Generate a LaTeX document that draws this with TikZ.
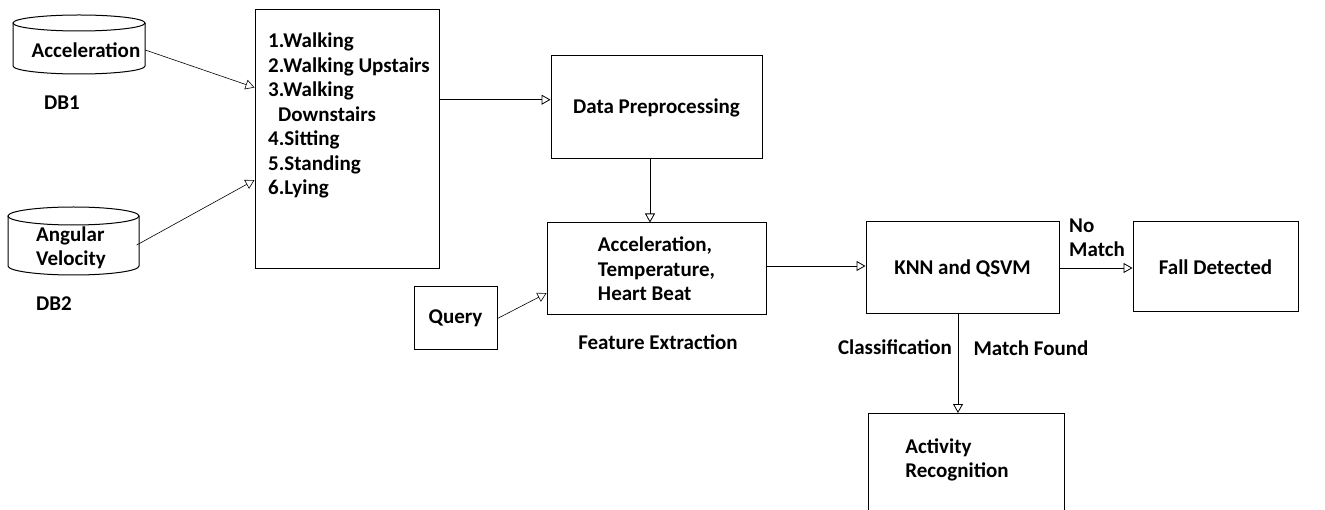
\documentclass[tikz,border=0pt]{standalone}
\usepackage{fontspec}
\setmainfont{Carlito}
\usetikzlibrary{arrows.meta,calc}
\begin{document}
\begin{tikzpicture}[x=1pt,y=-1pt,
  font=\fontsize{21}{24.5}\selectfont\bfseries,
  box/.style={draw, line width=1pt, inner sep=0pt},
  conn/.style={line width=0.8pt, -{Triangle[open,length=9pt,width=10pt]}},
  thinconn/.style={line width=0.6pt, -{Triangle[open,length=9pt,width=10pt]}},
  txt/.style={inner sep=0pt, align=left},
  cyl/.style={line width=1pt}]
\clip (0,0) rectangle (1325,510);
\fill[white] (0,0) rectangle (1325,510);

% DB1 cylinder
\draw[cyl] (79,23) ellipse [x radius=66pt, y radius=8pt];
\draw[cyl] (13,23) -- (13,66) arc[start angle=180, end angle=360, x radius=66pt, y radius=8pt] -- (145,23);
\node[txt, minimum width=118pt] (db1) at (86,50) {Acceleration};
\node[txt] (db1lbl) at (62,103) {DB1};

% DB2 cylinder
\draw[cyl] (73.5,216) ellipse [x radius=65.5pt, y radius=9pt];
\draw[cyl] (8,216) -- (8,266) arc[start angle=180, end angle=360, x radius=65.5pt, y radius=9pt] -- (139,216);
\node[txt, minimum width=131pt] (db2) at (71,248) {Angular\\Velocity};
\node[txt] (db2lbl) at (54,304) {DB2};

% activity list
\node[box, minimum width=184pt, minimum height=259pt] (list) at (347,139.5) {};
\node[txt, anchor=north west] (listtext) at (268,33) {1.Walking\\2.Walking Upstairs\\3.Walking\\\hspace*{10pt}Downstairs\\4.Sitting\\5.Standing\\6.Lying};

% data preprocessing
\node[box, minimum width=211pt, minimum height=103pt] (dp) at (656.5,107.5) {Data Preprocessing};

% feature extraction
\node[box, minimum width=219pt, minimum height=92pt, align=left] (fe) at (656.5,269) {Acceleration,\\Temperature,\\Heart Beat};
\node[txt] (felbl) at (658,342) {Feature Extraction};

% query
\node[box, minimum width=83pt, minimum height=63pt] (query) at (455.5,318.5) {Query};

% classifier
\node[box, minimum width=193pt, minimum height=92pt] (knn) at (962.5,268) {KNN and QSVM};
\node[box, minimum width=165pt, minimum height=90pt] (fall) at (1215.5,267) {Fall Detected};
\node[txt] (nomatch) at (1097,238) {No\\Match};

% activity recognition
\node[box, minimum width=196pt, minimum height=130pt, anchor=north] (act) at (966,413) {};
\node[txt] (acttext) at (957,460) {Activity\\Recognition};

\node[txt] (classlbl) at (895,347) {Classification};
\node[txt] (matchlbl) at (1031,348) {Match Found};

% connectors
\coordinate (l1) at ($(list.north west)!0.30!(list.south west)$);
\coordinate (l2) at ($(list.north west)!0.656!(list.south west)$);
\coordinate (l3) at ($(list.north east)!0.347!(list.south east)$);
\coordinate (f1) at ($(fe.north west)!0.76!(fe.south west)$);
\draw[thinconn] (db1.east) -- (l1);
\draw[thinconn] (db2.east) ++(0,-3) -- (l2);
\draw[conn] (l3) -- (l3 -| dp.west);
\draw[conn] (dp.south -| 650,0) -- (fe.north -| 650,0);
\draw[thinconn] (query.east) -- (f1);
\draw[conn] (fe.east) ++(0,-3) coordinate (f2) -- (f2 -| knn.west);
\draw[conn] (knn.east) -- (knn.east -| fall.west);
\draw[conn] (knn.south -| 958,0) -- (act.north -| 958,0);
\end{tikzpicture}
\end{document}
